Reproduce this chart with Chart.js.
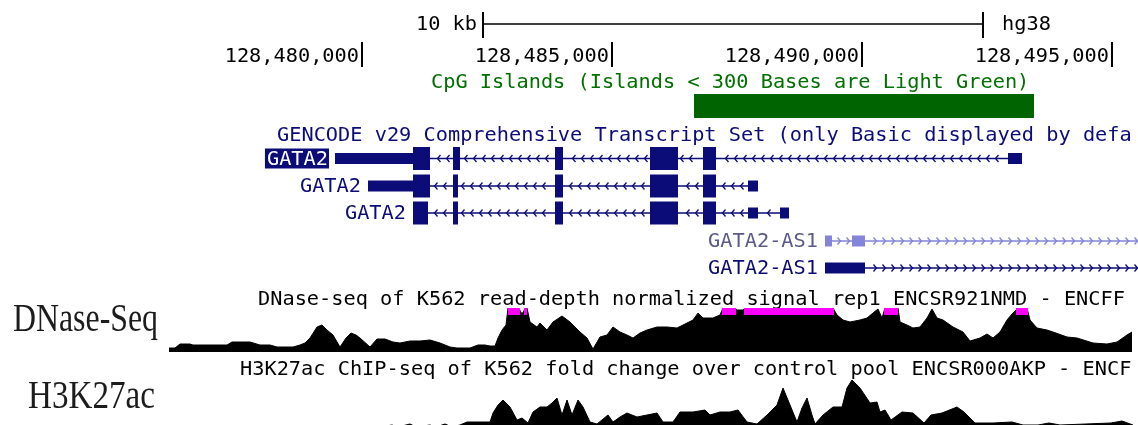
<!DOCTYPE html>
<html><head><meta charset="utf-8">
<script src="https://cdn.jsdelivr.net/npm/chart.js@4.4.1/dist/chart.umd.min.js"></script>
<style>html,body{margin:0;padding:0;background:#fff;}#wrap{width:1138px;height:425px;position:relative;}</style>
</head><body><div id="wrap"><canvas id="c"></canvas></div>
<script>
// ---------- data ----------
const viewStart = 128472760, viewEnd = 128495520;
const rulerTicks = [128480000, 128485000, 128490000, 128495000];
const scaleBarStart = 128482420, scaleBarLength = 10000;
const scaleBarLabel = '10 kb', assemblyLabel = 'hg38';

const cpgTitle = 'CpG Islands (Islands < 300 Bases are Light Green)';
const cpgStarts = [128486640];
const cpgEnds = [128493440];

const geneTrackTitle = 'GENCODE v29 Comprehensive Transcript Set (only Basic displayed by defa';
const geneNames = ['GATA2', 'GATA2', 'GATA2', 'GATA2-AS1', 'GATA2-AS1'];
const geneStrands = ['-', '-', '-', '+', '+'];
const geneThickStarts = [128481020, 128481020, 128481020, null, null];
const geneThickEnds = [128487080, 128487080, 128487080, null, null];
const geneExonStarts = [
  [128479460, 128481820, 128483860, 128485760, 128486820, 128492920],
  [128480120, 128481820, 128483860, 128485760, 128486820, 128487720],
  [128481020, 128481820, 128483860, 128485760, 128486820, 128487720, 128488360],
  [128489260, 128489800, 128497760],
  [128489260, 128497760]
];
const geneExonEnds = [
  [128481360, 128481960, 128484020, 128486320, 128487080, 128493200],
  [128481360, 128481920, 128484020, 128486320, 128487080, 128487920],
  [128481320, 128481920, 128484020, 128486320, 128487080, 128487920, 128488540],
  [128489400, 128490060, 128497960],
  [128490060, 128497960]
];

const dnaseTitle = 'DNase-seq of K562 read-depth normalized signal rep1 ENCSR921NMD - ENCFF';
const dnaseViewMax = 44;
const dnasePos = [128476140,128476260,128476360,128476560,128476620,128477160,128477300,128477400,128477620,128477760,
  128477960,128478160,128478300,128478620,128478760,128478860,128478960,128479100,128479200,128479300,
  128479420,128479560,128479680,128479780,128479880,128479960,128480160,128480300,128480460,128480620,
  128480760,128480960,128481160,128481360,128481560,128481760,128481900,128482160,128482320,128482460,
  128482560,128482660,128482720,128482800,128482880,128482920,128483000,128483140,128483180,128483220,
  128483260,128483300,128483360,128483500,128483560,128483700,128483820,128484000,128484160,128484360,
  128484500,128484620,128484760,128484900,128485020,128485160,128485300,128485420,128485560,128485700,
  128485900,128486100,128486300,128486500,128486620,128486720,128486820,128487020,128487160,128487220,
  128487460,128487500,128487620,128487660,128488560,128489420,128489500,128489620,128489760,128489960,
  128490100,128490220,128490320,128490400,128490460,128490720,128490760,128490900,128491020,128491160,
  128491300,128491400,128491500,128491620,128491820,128492020,128492160,128492360,128492500,128492620,
  128492760,128492900,128493000,128493120,128493300,128493360,128493500,128493700,128493820,128494100,
  128494300,128494620,128494900,128495100,128495300,128495400];
const dnaseSignal = [4,4,8,8,7,7,7,10,10,10,
  7,7,5,5,7,9,14,25,27,22,
  17,5,14,19,17,14,5,13,13,10,
  9,11,11,12,9,5,4,4,7,7,
  6,6,14,22,27,48,50,48,39,39,
  46,46,30,25,29,22,30,36,30,20,
  14,3,15,17,25,20,17,14,19,22,
  25,25,24,29,32,39,34,34,37,48,
  48,42,42,48,50,48,37,32,30,32,
  34,39,43,34,48,48,30,27,24,25,
  34,43,34,32,25,20,11,14,18,14,
  20,32,38,48,48,32,24,22,20,15,
  14,9,8,10,17,20];

const h3Title = 'H3K27ac ChIP-seq of K562 fold change over control pool ENCSR000AKP - ENCF';
const h3ViewMax = 50;
const h3Pos = [128476160,128480360,128480600,128480720,128480960,128481080,128481360,128481480,128481660,128481800,
  128481960,128482100,128482560,128482620,128482720,128482820,128482960,128483100,128483200,128483320,
  128483420,128483560,128483700,128483800,128483900,128484000,128484100,128484200,128484320,128484420,
  128484560,128484700,128484920,128485020,128485160,128485300,128485500,128485700,128485900,128486020,
  128486220,128486360,128486620,128486860,128486960,128487160,128487360,128487520,128487700,128487900,
  128488100,128488300,128488420,128488560,128488700,128488800,128488900,128489000,128489060,128489220,
  128489420,128489600,128489700,128489800,128489960,128490160,128490300,128490360,128490460,128490580,
  128490800,128491020,128491240,128491380,128491600,128491900,128492040,128492260,128492620,128493000,
  128493220,128493520,128493740,128493960,128494980,128495200,128495420];
const h3Signal = [0,0,2,0,3,0,2,0,3,0,
  2,5,5,14,22,27,20,7,9,4,
  15,20,20,24,29,12,27,12,27,20,
  5,3,12,5,10,14,10,12,14,5,
  5,15,15,17,12,15,15,17,5,3,
  12,22,39,22,5,19,29,12,3,12,
  20,20,39,47,39,24,25,15,17,7,
  15,14,4,12,14,20,15,4,4,5,
  2,2,4,2,4,6,2];

const sideLabels = ['DNase-Seq', 'H3K27ac'];

// ---------- layout / style ----------
const L = {
  mono: '20.3px "DejaVu Sans Mono", "Liberation Mono", monospace',
  serif: '"Liberation Serif", "DejaVu Serif", serif',
  barY: 24, barTick: [12, 38], barTextBase: 30,
  posTick: [42, 67], posTextBase: 62,
  cpgTitleX: 431, cpgTitleBase: 88, cpgBar: [94, 118],
  geneTitleX: 277, geneTitleBase: 141,
  rowCenters: [158.5, 186, 213, 241, 268],
  thickH: 23, thinH: 11, arrowStep: 9,
  geneColors: ['#0c0c78', '#0c0c78', '#0c0c78', '#8484d8', '#0c0c78'],
  labelColors: ['#ffffff', '#0c0c78', '#0c0c78', '#5a5a8a', '#0c0c78'],
  highlight: [true, false, false, false, false],
  dnaseTitleX: 258, dnaseTitleBase: 305,
  h3TitleX: 240, h3TitleBase: 375,
  bands: { yDnase: [308, 352], yH3: [377, 427] },
  clipH: 7,
  sideX: [13, 28], sideBase: [331, 408], sideW: [145, 127], sideSize: 40
};

const bandPlugin = {
  id: 'bands',
  afterLayout(chart) {
    for (const id in L.bands) {
      const s = chart.scales[id];
      s.top = L.bands[id][0]; s.bottom = L.bands[id][1]; s.height = s.bottom - s.top;
      s.configure();
    }
  }
};

function interp(pos, vals, g) {
  if (g < pos[0] || g > pos[pos.length - 1]) return null;
  for (let i = 0; i < pos.length - 1; i++) {
    if (g >= pos[i] && g <= pos[i + 1]) {
      const t = (g - pos[i]) / (pos[i + 1] - pos[i]);
      return vals[i] + t * (vals[i + 1] - vals[i]);
    }
  }
  return vals[vals.length - 1];
}

function drawChevron(ctx, x, y, dir) {
  ctx.beginPath();
  ctx.moveTo(x - 1.5 * dir, y - 3.5);
  ctx.lineTo(x + 1.5 * dir, y);
  ctx.lineTo(x - 1.5 * dir, y + 3.5);
  ctx.stroke();
}

const ucscPlugin = {
  id: 'ucsc',
  afterDraw(chart) {
    const ctx = chart.ctx, xs = chart.scales.x;
    const px = v => xs.getPixelForValue(v);
    ctx.save();
    ctx.font = L.mono;
    ctx.textBaseline = 'alphabetic';

    // scale bar
    const b0 = px(scaleBarStart), b1 = px(scaleBarStart + scaleBarLength);
    ctx.fillStyle = '#000';
    ctx.fillRect(b0, L.barY - 0.75, b1 - b0, 1.5);
    ctx.fillRect(b0 - 1, L.barTick[0], 2, L.barTick[1] - L.barTick[0]);
    ctx.fillRect(b1 - 1, L.barTick[0], 2, L.barTick[1] - L.barTick[0]);
    ctx.textAlign = 'right';
    ctx.fillText(scaleBarLabel, b0 - 6, L.barTextBase);
    ctx.textAlign = 'left';
    ctx.fillText(assemblyLabel, b1 + 19, L.barTextBase);

    // position ruler
    ctx.textAlign = 'right';
    rulerTicks.forEach(t => {
      const x = px(t);
      ctx.fillRect(x - 1, L.posTick[0], 2, L.posTick[1] - L.posTick[0]);
      ctx.fillText(t.toLocaleString('en-US'), x - 3, L.posTextBase);
    });

    // CpG islands
    ctx.textAlign = 'left';
    ctx.fillStyle = '#007000';
    ctx.fillText(cpgTitle, L.cpgTitleX, L.cpgTitleBase);
    ctx.fillStyle = '#006400';
    cpgStarts.forEach((s, i) => {
      const x0 = px(s), x1 = px(cpgEnds[i]);
      ctx.fillRect(x0, L.cpgBar[0], x1 - x0, L.cpgBar[1] - L.cpgBar[0]);
    });

    // Gene track
    ctx.fillStyle = '#0c0c78';
    ctx.fillText(geneTrackTitle, L.geneTitleX, L.geneTitleBase);
    geneNames.forEach((name, i) => {
      const yc = L.rowCenters[i], col = L.geneColors[i];
      const st = geneExonStarts[i], en = geneExonEnds[i];
      const x0 = px(st[0]), x1 = px(en[en.length - 1]);
      ctx.fillStyle = col; ctx.strokeStyle = col; ctx.lineWidth = 1.3;
      ctx.fillRect(x0, yc - 0.75, x1 - x0, 1.5);
      const dir = geneStrands[i] === '+' ? 1 : -1;
      for (let x = x0 + 5; x < x1 - 3; x += L.arrowStep) {
        let inside = false;
        for (let k = 0; k < st.length; k++) {
          if (x > px(st[k]) - 4 && x < px(en[k]) + 4) { inside = true; break; }
        }
        if (!inside) drawChevron(ctx, x, yc, dir);
      }
      const ts = geneThickStarts[i], te = geneThickEnds[i];
      for (let k = 0; k < st.length; k++) {
        const a = st[k], b = en[k];
        const ea = px(a), eb = px(b);
        ctx.fillRect(ea, yc - L.thinH / 2, eb - ea, L.thinH);
        if (ts !== null) {
          const ca = Math.max(a, ts), cb = Math.min(b, te);
          if (cb > ca) {
            const xa = px(ca), xb = px(cb);
            ctx.fillRect(xa, yc - L.thickH / 2, xb - xa, L.thickH);
          }
        }
      }
      ctx.textAlign = 'right'; ctx.textBaseline = 'middle';
      const lx = x0 - 7;
      if (L.highlight[i]) {
        const w = ctx.measureText(name).width;
        ctx.fillStyle = '#0c0c78';
        ctx.fillRect(lx - w - 2, yc - 10, w + 3, 20);
      }
      ctx.fillStyle = L.labelColors[i];
      ctx.fillText(name, lx, yc + 1);
      ctx.textBaseline = 'alphabetic';
    });

    // signal track titles
    ctx.textAlign = 'left';
    ctx.fillStyle = '#000';
    ctx.fillText(dnaseTitle, L.dnaseTitleX, L.dnaseTitleBase);
    ctx.fillText(h3Title, L.h3TitleX, L.h3TitleBase);

    // values over the view limit, marked in magenta
    const ys = chart.scales.yDnase;
    ctx.fillStyle = '#ff00ff';
    const p0 = Math.floor(px(dnasePos[0])), p1 = Math.ceil(px(dnasePos[dnasePos.length - 1]));
    for (let x = p0; x < p1; x++) {
      const v = interp(dnasePos, dnaseSignal, xs.getValueForPixel(x + 0.5));
      if (v !== null && v > dnaseViewMax) ctx.fillRect(x, ys.top, 1, L.clipH);
    }

    // side labels
    ctx.fillStyle = '#1c1c1c';
    ctx.font = L.sideSize + 'px ' + L.serif;
    sideLabels.forEach((t, i) => {
      const w = ctx.measureText(t).width;
      ctx.save();
      ctx.translate(L.sideX[i], L.sideBase[i]);
      ctx.scale(L.sideW[i] / w, 1);
      ctx.fillText(t, 0, 0);
      ctx.restore();
    });
    ctx.restore();
  }
};

const sig = (pos, vals, max) => pos.map((p, i) => ({ x: p, y: Math.min(vals[i], max) }));

new Chart(document.getElementById('c'), {
  type: 'line',
  data: {
    datasets: [
      { label: 'DNase-seq', data: sig(dnasePos, dnaseSignal, dnaseViewMax), yAxisID: 'yDnase',
        borderColor: '#000', backgroundColor: '#000', borderWidth: 1, fill: 'origin', pointRadius: 0, tension: 0 },
      { label: 'H3K27ac', data: sig(h3Pos, h3Signal, h3ViewMax), yAxisID: 'yH3',
        borderColor: '#000', backgroundColor: '#000', borderWidth: 1, fill: 'origin', pointRadius: 0, tension: 0 }
    ]
  },
  options: {
    responsive: true, maintainAspectRatio: false, animation: false, events: [],
    layout: { padding: 0 },
    plugins: { legend: { display: false }, tooltip: { enabled: false }, title: { display: false } },
    scales: {
      x: { type: 'linear', min: viewStart, max: viewEnd, display: false },
      yDnase: { type: 'linear', min: 0, max: dnaseViewMax, display: false },
      yH3: { type: 'linear', min: 0, max: h3ViewMax, display: false }
    }
  },
  plugins: [bandPlugin, ucscPlugin]
});
</script>
</body></html>
